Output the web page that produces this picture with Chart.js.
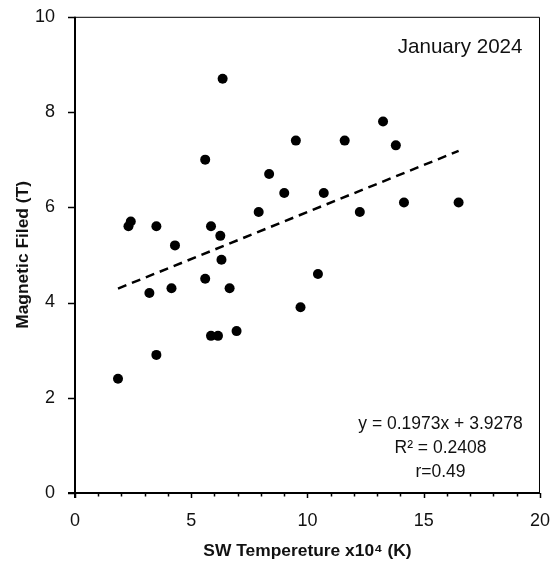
<!DOCTYPE html>
<html>
<head>
<meta charset="utf-8">
<script src="https://cdn.jsdelivr.net/npm/chart.js@4/dist/chart.umd.min.js"></script>
<style>
  html, body { margin: 0; padding: 0; background: #fff; }
  #wrap { width: 550px; height: 562px; }
</style>
</head>
<body>
<div id="wrap"><canvas id="scatter"></canvas></div>
<script>
// daily values, January 2024
const swTemp = [2.3, 2.4, 3.5, 4.3, 6.35, 5.6, 5.85, 6.25, 6.3, 7.9, 8.35, 9.0, 9.5, 11.6, 13.25, 13.8,
  10.7, 12.25, 14.15, 16.5, 3.2, 4.15, 5.6, 6.65, 1.85, 3.5, 5.85, 6.15, 6.95, 9.7, 10.45];
const magField = [5.6, 5.7, 5.6, 5.2, 8.7, 7.0, 5.6, 5.4, 4.9, 5.9, 6.7, 6.3, 7.4, 7.4, 7.8, 7.3,
  6.3, 5.9, 6.1, 6.1, 4.2, 4.3, 4.5, 4.3, 2.4, 2.9, 3.3, 3.3, 3.4, 3.9, 4.6];
const xTicks = [0, 5, 10, 15, 20];
const yTicks = [0, 2, 4, 6, 8, 10];

// linear fit
const slope = 0.1973;
const intercept = 3.9278;
const rSquared = 0.2408;
const rValue = 0.49;

const xMin = Math.min(...swTemp);
const xMax = Math.max(...swTemp);
const fitLine = [xMin, xMax].map(x => ({ x: x, y: slope * x + intercept }));

const points = swTemp.map((x, i) => ({ x: x, y: magField[i] }));

const textFont = "'Liberation Sans', Arial, sans-serif";
const clear = "rgba(0,0,0,0)";

// axis frame, tick marks and the text boxes inside the plot
const framePlugin = {
  id: "frame",
  afterDraw(chart) {
    const ctx = chart.ctx;
    const a = chart.chartArea;
    const xs = chart.scales.x;
    const ys = chart.scales.y;
    ctx.save();
    ctx.strokeStyle = "#000";

    // top and right edges
    ctx.lineWidth = 1;
    ctx.beginPath();
    ctx.moveTo(a.left, a.top + 0.5);
    ctx.lineTo(a.right - 0.5, a.top + 0.5);
    ctx.lineTo(a.right - 0.5, a.bottom);
    ctx.stroke();

    // left and bottom axes
    ctx.lineWidth = 2;
    ctx.beginPath();
    ctx.moveTo(a.left, a.top);
    ctx.lineTo(a.left, a.bottom + 5);
    ctx.moveTo(a.left - 7, a.bottom);
    ctx.lineTo(a.right, a.bottom);
    ctx.stroke();

    // x ticks: minor every unit, longer at labelled values
    ctx.lineWidth = 1.5;
    ctx.beginPath();
    for (let v = xs.min; v <= xs.max; v++) {
      const px = Math.round(xs.getPixelForValue(v)) + 0.5;
      const len = xTicks.includes(v) ? 5 : 3.5;
      ctx.moveTo(px, a.bottom);
      ctx.lineTo(px, a.bottom + len);
    }
    ctx.stroke();

    // y ticks
    ctx.beginPath();
    yTicks.forEach(v => {
      const py = Math.round(ys.getPixelForValue(v)) + 0.5;
      ctx.moveTo(a.left - 7, py);
      ctx.lineTo(a.left, py);
    });
    ctx.stroke();

    ctx.fillStyle = "#111";
    ctx.font = "20.6px " + textFont;
    ctx.textAlign = "right";
    ctx.textBaseline = "alphabetic";
    ctx.fillText("January 2024", a.right - 17.5, a.top + 36);

    ctx.font = "17.5px " + textFont;
    ctx.textAlign = "center";
    const cx = a.right - 99.5;
    ctx.fillText("y = " + slope + "x + " + intercept, cx, a.bottom - 64);
    ctx.fillText("R\u00b2 = " + rSquared, cx, a.bottom - 40);
    ctx.fillText("r=" + rValue, cx, a.bottom - 16);
    ctx.restore();
  }
};

new Chart(document.getElementById("scatter"), {
  type: "scatter",
  data: {
    datasets: [
      {
        label: "Daily",
        data: points,
        backgroundColor: "#000",
        borderColor: "#000",
        pointRadius: 5,
        pointBorderWidth: 0,
      },
      {
        type: "line",
        label: "Linear",
        data: fitLine,
        borderColor: "#000",
        borderWidth: 2.5,
        borderDash: [9, 6],
        pointRadius: 0,
        fill: false,
      },
    ],
  },
  options: {
    responsive: true,
    maintainAspectRatio: false,
    animation: false,
    layout: { padding: 0 },
    plugins: {
      legend: { display: false },
      tooltip: { enabled: false },
    },
    scales: {
      x: {
        type: "linear",
        min: 0,
        max: 20,
        // invisible tick marks only keep the labels clear of the axis
        grid: { drawOnChartArea: false, tickLength: 17, color: clear },
        border: { display: false },
        afterFit: s => { s.height = 69; },
        ticks: {
          stepSize: 5,
          color: "#111",
          padding: 0,
          font: { family: textFont, size: 18 },
        },
        title: {
          display: true,
          text: "SW Tempereture x10\u2074 (K)",
          color: "#111",
          padding: { top: 2, bottom: 0 },
          font: { family: textFont, size: 17.4, weight: "bold" },
        },
      },
      y: {
        min: 0,
        max: 10,
        grid: { drawOnChartArea: false, tickLength: 14, color: clear },
        border: { display: false },
        afterFit: s => { s.width = 75; },
        ticks: {
          stepSize: 2,
          color: "#111",
          padding: 6,
          font: { family: textFont, size: 18 },
        },
        title: {
          display: true,
          text: "Magnetic Filed (T)",
          color: "#111",
          padding: { top: 13, bottom: 0 },
          font: { family: textFont, size: 17.4, weight: "bold" },
        },
      },
    },
  },
  plugins: [framePlugin],
});
</script>
</body>
</html>
